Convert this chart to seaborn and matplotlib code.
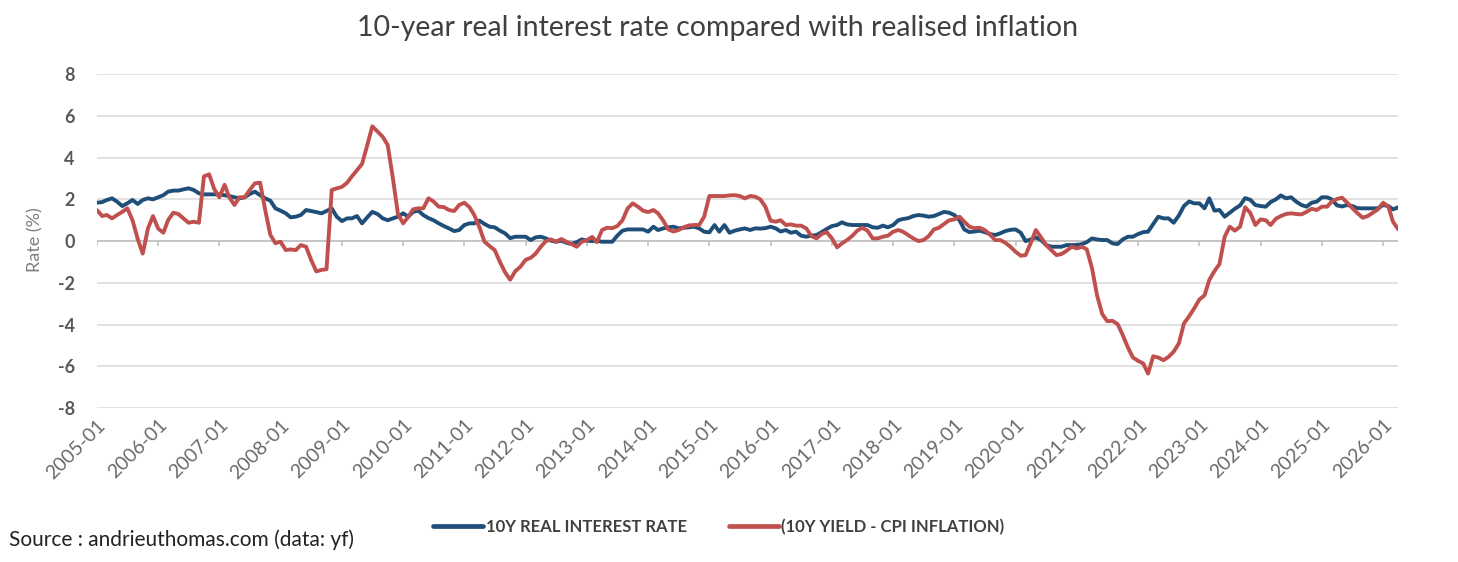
# -*- coding: utf-8 -*-
"""
10-year real interest rate compared with realised inflation
"""

# Initial setup
import pandas as pd
import matplotlib.pyplot as plt
from matplotlib.lines import Line2D
import seaborn as sns

# Monthly observations, 2005-01 to 2026-04
months = pd.date_range("2005-01-01", periods=256, freq="MS")

# 10Y real interest rate (%)
real_rate = [
    1.84, 1.87, 1.97, 2.05, 1.89, 1.68, 1.81, 1.97, 1.78, 1.97, 2.05, 2.00,
    2.10, 2.20, 2.37, 2.42, 2.42, 2.48, 2.53, 2.45, 2.29, 2.24, 2.24, 2.24,
    2.24, 2.20, 2.16, 2.10, 2.05, 2.10, 2.26, 2.37, 2.20, 2.05, 1.94, 1.57,
    1.46, 1.33, 1.14, 1.17, 1.25, 1.49, 1.44, 1.39, 1.33, 1.44, 1.57, 1.17,
    0.96, 1.09, 1.09, 1.20, 0.85, 1.14, 1.40, 1.30, 1.09, 1.00, 1.09, 1.17,
    1.33, 1.17, 1.40, 1.46, 1.25, 1.10, 1.00, 0.85, 0.72, 0.61, 0.48, 0.53,
    0.77, 0.85, 0.85, 0.98, 0.82, 0.69, 0.66, 0.50, 0.37, 0.14, 0.21, 0.21,
    0.21, 0.05, 0.18, 0.21, 0.13, 0.02, -0.03, 0.02, -0.08, -0.14, -0.05, 0.08,
    0.02, 0.00, 0.02, -0.03, -0.03, -0.03, 0.26, 0.50, 0.56, 0.56, 0.56, 0.56,
    0.45, 0.69, 0.53, 0.61, 0.66, 0.69, 0.61, 0.64, 0.66, 0.69, 0.61, 0.45,
    0.42, 0.77, 0.45, 0.77, 0.40, 0.50, 0.56, 0.61, 0.53, 0.61, 0.60, 0.62,
    0.69, 0.61, 0.46, 0.53, 0.40, 0.45, 0.26, 0.21, 0.26, 0.29, 0.43, 0.58,
    0.72, 0.77, 0.90, 0.80, 0.77, 0.77, 0.77, 0.77, 0.66, 0.64, 0.74, 0.66,
    0.77, 1.00, 1.06, 1.10, 1.20, 1.25, 1.22, 1.17, 1.20, 1.30, 1.40, 1.36,
    1.25, 1.00, 0.56, 0.43, 0.46, 0.50, 0.43, 0.34, 0.29, 0.37, 0.48, 0.54,
    0.56, 0.40, 0.00, 0.08, 0.18, 0.05, -0.19, -0.27, -0.27, -0.27, -0.19, -0.19,
    -0.19, -0.14, -0.05, 0.13, 0.08, 0.05, 0.05, -0.11, -0.14, 0.08, 0.21, 0.21,
    0.34, 0.43, 0.45, 0.82, 1.17, 1.09, 1.09, 0.88, 1.23, 1.68, 1.90, 1.81,
    1.81, 1.57, 2.05, 1.46, 1.49, 1.17, 1.36, 1.55, 1.71, 2.06, 1.98, 1.73,
    1.68, 1.65, 1.87, 2.00, 2.19, 2.05, 2.10, 1.89, 1.73, 1.65, 1.84, 1.89,
    2.10, 2.10, 2.00, 1.71, 1.66, 1.73, 1.68, 1.58, 1.57, 1.57, 1.57, 1.57,
    1.73, 1.68, 1.52, 1.62,
]

# 10Y yield minus CPI inflation (%)
yield_minus_cpi = [
    1.49, 1.20, 1.25, 1.09, 1.25, 1.40, 1.57, 1.00, 0.10, -0.60, 0.60, 1.20,
    0.60, 0.40, 1.00, 1.36, 1.30, 1.09, 0.88, 0.93, 0.88, 3.10, 3.20, 2.50,
    2.10, 2.70, 2.10, 1.73, 2.10, 2.10, 2.45, 2.77, 2.80, 1.50, 0.30, -0.10,
    -0.03, -0.43, -0.40, -0.43, -0.19, -0.27, -0.90, -1.45, -1.38, -1.35, 2.45, 2.53,
    2.60, 2.80, 3.10, 3.40, 3.70, 4.60, 5.50, 5.25, 5.00, 4.60, 3.00, 1.30,
    0.85, 1.17, 1.52, 1.57, 1.57, 2.05, 1.90, 1.65, 1.63, 1.49, 1.44, 1.73,
    1.84, 1.62, 1.25, 0.66, -0.03, -0.24, -0.43, -1.00, -1.50, -1.85, -1.44, -1.23,
    -0.90, -0.80, -0.60, -0.27, 0.00, 0.08, -0.03, 0.10, -0.03, -0.14, -0.27, -0.03,
    0.05, 0.20, -0.05, 0.53, 0.64, 0.62, 0.72, 1.00, 1.57, 1.81, 1.65, 1.46,
    1.39, 1.49, 1.33, 0.98, 0.56, 0.46, 0.53, 0.66, 0.75, 0.77, 0.77, 1.17,
    2.16, 2.16, 2.16, 2.16, 2.19, 2.20, 2.16, 2.05, 2.16, 2.13, 2.00, 1.65,
    0.98, 0.93, 1.00, 0.77, 0.80, 0.74, 0.74, 0.61, 0.24, 0.13, 0.34, 0.43,
    0.13, -0.30, -0.11, 0.05, 0.24, 0.50, 0.64, 0.50, 0.13, 0.13, 0.21, 0.26,
    0.45, 0.53, 0.45, 0.29, 0.13, 0.00, 0.05, 0.24, 0.56, 0.64, 0.82, 1.00,
    1.04, 1.17, 0.93, 0.69, 0.62, 0.64, 0.53, 0.32, 0.05, 0.05, -0.08, -0.27,
    -0.51, -0.70, -0.67, -0.08, 0.53, 0.18, -0.19, -0.43, -0.67, -0.62, -0.46, -0.27,
    -0.35, -0.27, -0.40, -1.30, -2.60, -3.50, -3.84, -3.82, -3.98, -4.50, -5.10, -5.58,
    -5.74, -5.87, -6.35, -5.52, -5.58, -5.71, -5.55, -5.30, -4.90, -3.95, -3.60, -3.23,
    -2.80, -2.60, -1.87, -1.44, -1.10, 0.21, 0.69, 0.50, 0.69, 1.62, 1.35, 0.77,
    1.04, 1.00, 0.77, 1.07, 1.20, 1.30, 1.33, 1.30, 1.28, 1.40, 1.55, 1.49,
    1.65, 1.65, 1.90, 2.02, 2.08, 1.84, 1.58, 1.34, 1.12, 1.20, 1.36, 1.52,
    1.84, 1.65, 0.93, 0.56,
]

# Axis ticks
year_ticks = pd.date_range("2005-01-01", "2026-01-01", freq="YS")
y_ticks = [-8, -6, -4, -2, 0, 2, 4, 6, 8]

# Series names and colours
label_real = "10Y REAL INTEREST RATE"
label_gap = "(10Y YIELD - CPI INFLATION)"
blue = "#1F4E79"
red = "#C0504D"
grey_text = "#595959"
grid_col = "#D9D9D9"

# Building a long dataframe for seaborn
df = pd.DataFrame({"month": months, label_real: real_rate, label_gap: yield_minus_cpi})
long_df = df.melt(id_vars="month", var_name="series", value_name="rate")

sns.set_style("white")
plt.rcParams["font.family"] = ["Lato", "DejaVu Sans"]

fig = plt.figure(figsize=(14.58, 5.62), dpi=100)
ax = fig.add_axes([0.0665, 0.274, 0.8925, 0.594])

# Constructing the line chart
sns.lineplot(data=long_df, x="month", y="rate", hue="series",
             palette={label_real: blue, label_gap: red},
             linewidth=2.8, ax=ax, legend=False, zorder=3)

# Gridlines and axis
ax.set_ylim(-8, 8)
ax.set_xlim(months[0], months[-1])
ax.set_yticks(y_ticks)
ax.set_yticklabels([str(t) for t in y_ticks], fontsize=13, fontweight="bold", color=grey_text)
for t in y_ticks:
    ax.axhline(t, color=grid_col, lw=1.1, zorder=1)
ax.axhline(0, color="#BFBFBF", lw=1.1, zorder=2)
ax.vlines(year_ticks, -0.25, 0, color="#BFBFBF", lw=1.1, zorder=2)
for s in ax.spines.values():
    s.set_visible(False)
ax.tick_params(axis="y", length=0, pad=16)
ax.tick_params(axis="x", length=0, pad=6)

ax.set_xticks(year_ticks)
ax.set_xticklabels([d.strftime("%Y-%m") for d in year_ticks], rotation=45,
                   ha="right", rotation_mode="anchor", fontsize=14, color="#6A6A6A")
ax.set_xlabel("")
ax.set_ylabel("")

# Title and labels
fig.text(0.492, 0.95, "10-year real interest rate compared with realised inflation",
         ha="center", va="center", fontsize=20.5, color="#404040")
fig.text(0.024, 0.573, "Rate (%)", rotation=90, ha="center", va="center",
         fontsize=13, color="#7F7F7F")
fig.text(0.006, 0.039, "Source : andrieuthomas.com (data: yf)", ha="left", va="center",
         fontsize=15, color="#222222")

# Legend at the bottom
handles = [Line2D([], [], color=blue, lw=3.4), Line2D([], [], color=red, lw=3.4)]
fig.legend(handles, [label_real, label_gap], loc="center", bbox_to_anchor=(0.493, 0.062),
           ncol=2, frameon=False, handlelength=3.0, handletextpad=0.15, columnspacing=2.5,
           prop={"size": 12, "weight": "bold"}, labelcolor="#404040")

fig.savefig("out.png", dpi=100)
